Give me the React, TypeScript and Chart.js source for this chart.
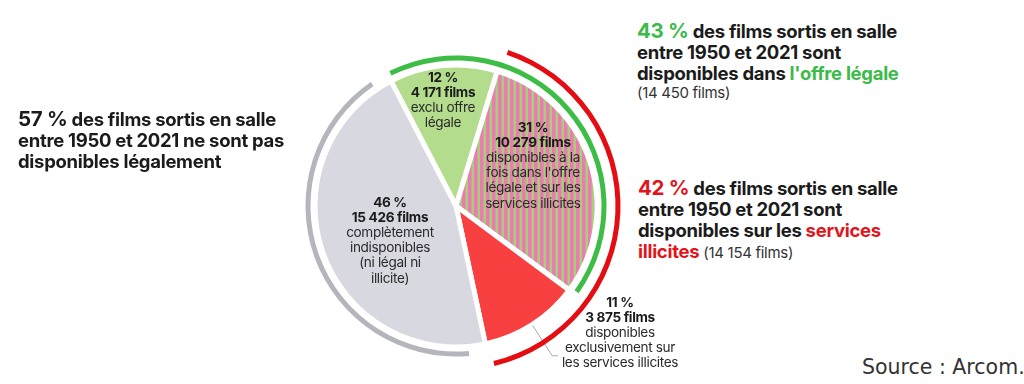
import React, { useEffect, useRef } from 'react';
import { Chart, registerables } from 'chart.js';

Chart.register(...registerables);

// ---------- data ----------
const categories = [
  'Exclu offre légale',
  'Offre légale et services illicites',
  'Exclusivement services illicites',
  'Complètement indisponibles',
];
const filmCounts = [4171, 10279, 3875, 15426];
const percentLabels = ['12 %', '31 %', '11 %', '46 %'];
const filmLabels = ['4 171 films', '10 279 films', '3 875 films', '15 426 films'];
const legalFlags = [1, 1, 0, 0];
const illicitFlags = [0, 1, 1, 0];
const unavailableFlags = [0, 0, 0, 1];
const startRotation = -27.5;

// ---------- style ----------
const CX = 456;
const CY = 206;
const BOX = 360;
const PIE_RADIUS = 141;
const GREEN = '#3cba4a';
const RED = '#e3141c';
const sliceColors = ['#b4dc8d', 'HATCH', '#f7403f', '#d8d8e0'];

function hatchPattern(): CanvasPattern | string {
  const c = document.createElement('canvas');
  c.width = 6;
  c.height = 6;
  const g = c.getContext('2d');
  if (!g) return '#ee79b3';
  g.fillStyle = '#a6cf79';
  g.fillRect(0, 0, 6, 6);
  g.fillStyle = '#ee7ab4';
  g.fillRect(0, 0, 3.5, 6);
  return g.createPattern(c, 'repeat') || '#ee79b3';
}

const total = filmCounts.reduce((a, b) => a + b, 0);

function bracketSpan(flags: number[], gapDeg: number) {
  const first = flags.indexOf(1);
  const before = filmCounts.slice(0, first).reduce((a, b) => a + b, 0);
  const span = filmCounts.reduce((a, v, i) => a + (flags[i] ? v : 0), 0);
  const spanDeg = (span / total) * 360 - 2 * gapDeg;
  return {
    rotation: startRotation + (before / total) * 360 + gapDeg,
    data: [spanDeg, 360 - spanDeg],
  };
}

const leaderPlugin = {
  id: 'leader',
  afterDraw(chart: any) {
    const arc: any = chart.getDatasetMeta(0).data[2];
    if (!arc) return;
    const p = arc.getProps(['x', 'y', 'startAngle', 'endAngle', 'outerRadius'], true);
    const mid = (p.startAngle + p.endAngle) / 2;
    const r1 = p.outerRadius + 1;
    const r2 = p.outerRadius + 37;
    const ctx = chart.ctx;
    ctx.save();
    ctx.strokeStyle = '#a8a8a8';
    ctx.lineWidth = 1;
    ctx.beginPath();
    ctx.moveTo(p.x + Math.cos(mid) * r1, p.y + Math.sin(mid) * r1);
    const ex = p.x + Math.cos(mid) * r2;
    const ey = p.y + Math.sin(mid) * r2;
    ctx.lineTo(ex, ey);
    ctx.lineTo(ex + 6, ey);
    ctx.stroke();
    ctx.restore();
  },
};

const baseOptions = {
  responsive: false,
  animation: false as const,
  events: [] as any[],
  layout: { padding: 0 },
  plugins: { legend: { display: false }, tooltip: { enabled: false } },
};

function makeRing(canvas: HTMLCanvasElement, flags: number[], color: string, center: number, width: number, gap: number) {
  const s = bracketSpan(flags, gap);
  const outer = center + width / 2;
  const inner = center - width / 2;
  return new Chart(canvas, {
    type: 'doughnut',
    data: {
      labels: ['arc', 'rest'],
      datasets: [{ data: s.data, backgroundColor: [color, 'rgba(0,0,0,0)'], borderWidth: 0 }],
    },
    options: {
      ...baseOptions,
      rotation: s.rotation,
      radius: outer,
      cutout: (inner / outer) * 100 + '%',
    } as any,
  });
}

const canvasStyle: React.CSSProperties = {
  position: 'absolute',
  left: CX - BOX / 2,
  top: CY - BOX / 2,
  width: BOX,
  height: BOX,
};

const heading: React.CSSProperties = {
  position: 'absolute',
  fontFamily: 'Inter, sans-serif',
  fontWeight: 700,
  fontSize: 18.5,
  lineHeight: '21px',
  letterSpacing: '-0.3px',
  color: '#1b1b1b',
  whiteSpace: 'nowrap',
};

const small: React.CSSProperties = {
  fontWeight: 400,
  fontSize: 15,
  color: '#333',
  letterSpacing: '-0.3px',
};

function SliceLabel({ x, y, pct, films, lines }: { x: number; y: number; pct: string; films: string; lines: string[] }) {
  return (
    <div
      style={{
        position: 'absolute',
        left: x,
        top: y,
        transform: 'translateX(-50%)',
        textAlign: 'center',
        fontFamily: 'Inter, sans-serif',
        fontSize: 13.6,
        lineHeight: '15.2px',
        letterSpacing: '-0.35px',
        color: '#2a2a2a',
        whiteSpace: 'nowrap',
      }}
    >
      <div style={{ fontWeight: 700, color: '#1b1b1b' }}>{pct}</div>
      <div style={{ fontWeight: 700, color: '#1b1b1b' }}>{films}</div>
      {lines.map((l, i) => (
        <div key={i}>{l}</div>
      ))}
    </div>
  );
}

export default function App() {
  const pieRef = useRef<HTMLCanvasElement>(null);
  const redRef = useRef<HTMLCanvasElement>(null);
  const greenRef = useRef<HTMLCanvasElement>(null);
  const grayRef = useRef<HTMLCanvasElement>(null);

  useEffect(() => {
    const charts: Chart[] = [];
    const pattern = hatchPattern();
    if (pieRef.current) {
      charts.push(
        new Chart(pieRef.current, {
          type: 'pie',
          data: {
            labels: categories,
            datasets: [
              {
                data: filmCounts,
                backgroundColor: sliceColors.map((c) => (c === 'HATCH' ? pattern : c)) as any,
                borderColor: '#ffffff',
                borderWidth: 5,
              },
            ],
          },
          options: { ...baseOptions, rotation: startRotation, radius: PIE_RADIUS } as any,
          plugins: [leaderPlugin],
        })
      );
    }
    if (redRef.current) charts.push(makeRing(redRef.current, illicitFlags, '#e30d13', 162, 5, 1.5));
    if (greenRef.current) charts.push(makeRing(greenRef.current, legalFlags, '#3dbd45', 148, 5, 1.2));
    if (grayRef.current) charts.push(makeRing(grayRef.current, unavailableFlags, '#b5b5be', 148, 5, 7));
    return () => charts.forEach((c) => c.destroy());
  }, []);

  return (
    <div style={{ position: 'absolute', left: 0, top: 0, width: 1024, height: 384, background: '#fff', overflow: 'hidden' }}>
      <canvas ref={pieRef} width={BOX} height={BOX} style={canvasStyle} />
      <canvas ref={grayRef} width={BOX} height={BOX} style={canvasStyle} />
      <canvas ref={greenRef} width={BOX} height={BOX} style={canvasStyle} />
      <canvas ref={redRef} width={BOX} height={BOX} style={canvasStyle} />

      <div style={{ ...heading, left: 18, top: 107.5 }}>
        <span style={{ fontSize: 20.5 }}>57 %</span> des films sortis en salle
        <br />
        entre 1950 et 2021 ne sont pas
        <br />
        disponibles légalement
      </div>

      <div style={{ ...heading, left: 637, top: 19.5 }}>
        <span style={{ fontSize: 20.5, color: GREEN }}>43 %</span> des films sortis en salle
        <br />
        entre 1950 et 2021 sont
        <br />
        disponibles dans <span style={{ color: GREEN }}>l'offre légale</span>
        <div style={{ ...small, lineHeight: '18px' }}>(14 450 films)</div>
      </div>

      <div style={{ ...heading, left: 638, top: 176.5 }}>
        <span style={{ fontSize: 20.5, color: RED }}>42 %</span> des films sortis en salle
        <br />
        entre 1950 et 2021 sont
        <br />
        disponibles sur les <span style={{ color: RED }}>services</span>
        <br />
        <span style={{ color: RED }}>illicites</span> <span style={small}>(14 154 films)</span>
      </div>

      <SliceLabel x={443} y={69.5} pct={percentLabels[0]} films={filmLabels[0]} lines={['exclu offre', 'légale']} />
      <SliceLabel
        x={533}
        y={119.5}
        pct={percentLabels[1]}
        films={filmLabels[1]}
        lines={['disponibles à la', "fois dans l'offre", 'légale et sur les', 'services illicites']}
      />
      <SliceLabel
        x={390}
        y={194.5}
        pct={percentLabels[3]}
        films={filmLabels[3]}
        lines={['complètement', 'indisponibles', '(ni légal ni', 'illicite)']}
      />
      <SliceLabel
        x={620}
        y={294.5}
        pct={percentLabels[2]}
        films={filmLabels[2]}
        lines={['disponibles', 'exclusivement sur', 'les services illicites']}
      />

      <div
        style={{
          position: 'absolute',
          left: 862,
          top: 355,
          fontFamily: '"DejaVu Sans", sans-serif',
          fontSize: 20.5,
          lineHeight: '24px',
          color: '#333',
          whiteSpace: 'nowrap',
        }}
      >
        Source : Arcom.
      </div>
    </div>
  );
}
